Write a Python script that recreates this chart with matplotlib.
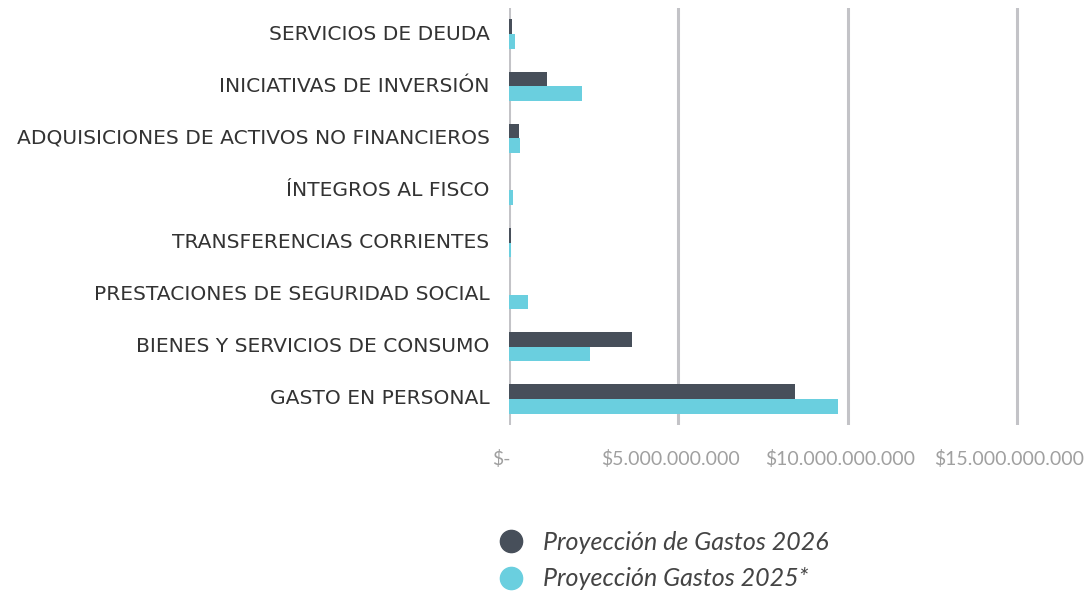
import matplotlib
matplotlib.use("Agg")
import matplotlib.pyplot as plt
from matplotlib.lines import Line2D
from matplotlib.ticker import FixedLocator, FixedFormatter
from matplotlib.transforms import ScaledTranslation
import numpy as np

categories = [
    "GASTO EN PERSONAL",
    "BIENES Y SERVICIOS DE CONSUMO",
    "PRESTACIONES DE SEGURIDAD SOCIAL",
    "TRANSFERENCIAS CORRIENTES",
    "ÍNTEGROS AL FISCO",
    "ADQUISICIONES DE ACTIVOS NO FINANCIEROS",
    "INICIATIVAS DE INVERSIÓN",
    "SERVICIOS DE DEUDA",
]
gastos_2026 = [8.45e9, 3.62e9, 0.0, 0.05e9, 0.0, 0.29e9, 1.12e9, 0.10e9]
gastos_2025 = [9.72e9, 2.40e9, 0.57e9, 0.05e9, 0.11e9, 0.32e9, 2.15e9, 0.17e9]
tick_values = [0, 5e9, 10e9, 15e9]
tick_labels = ["$-", "$5.000.000.000", "$10.000.000.000", "$15.000.000.000"]
series_names = ["Proyección de Gastos 2026", "Proyección Gastos 2025*"]

c_dark = "#474f5a"
c_cyan = "#6acfdf"
grid_c = "#c3c3c7"

plt.rcParams['font.family'] = ['Lato', 'DejaVu Sans']

fig = plt.figure(figsize=(10.84, 5.97), dpi=100)
ax = fig.add_axes([509/1084, 1-425/597, 559/1084, 417/597])

y = np.arange(len(categories))
h = 0.28
ax.barh(y + h/2, gastos_2026, height=h, color=c_dark, zorder=3)
ax.barh(y - h/2, gastos_2025, height=h, color=c_cyan, zorder=3)

ax.set_ylim(-0.5, len(categories) - 0.5)
ax.set_xlim(0, 16.5e9)
ax.xaxis.set_major_locator(FixedLocator(tick_values))
ax.xaxis.set_major_formatter(FixedFormatter(tick_labels))
ax.set_yticks(y)
ax.set_yticklabels(categories, fontsize=14.6, color="#333333", family=['DejaVu Sans'])
ax.tick_params(axis='y', length=0, pad=14)
ax.tick_params(axis='x', length=0, pad=18, labelsize=14, labelcolor="#a0a0a0")
shift = ScaledTranslation(-8/100, 0, fig.dpi_scale_trans)
for lbl in ax.get_xticklabels():
    lbl.set_ha('center')
    lbl.set_transform(lbl.get_transform() + shift)
yshift = ScaledTranslation(0, 2/100, fig.dpi_scale_trans)
for lbl in ax.get_yticklabels():
    lbl.set_transform(lbl.get_transform() + yshift)

for s in ax.spines.values():
    s.set_visible(False)
ax.grid(axis='x', color=grid_c, linewidth=2.2, zorder=0)
ax.grid(axis='y', visible=False)

handles = [
    Line2D([], [], marker='o', linestyle='none', markersize=16, color=c_dark),
    Line2D([], [], marker='o', linestyle='none', markersize=16, color=c_cyan),
]
leg = fig.legend(handles, series_names, loc='upper left',
                 bbox_to_anchor=(473/1084, 1-508/597), frameon=False,
                 prop={'family': ['Lato', 'DejaVu Sans'], 'size': 18, 'style': 'italic', 'weight': 'normal'},
                 handletextpad=0.7, labelspacing=0.55, handlelength=1.2)
for t in leg.get_texts():
    t.set_color("#444444")

fig.savefig("out.png", dpi=100, facecolor="white")
